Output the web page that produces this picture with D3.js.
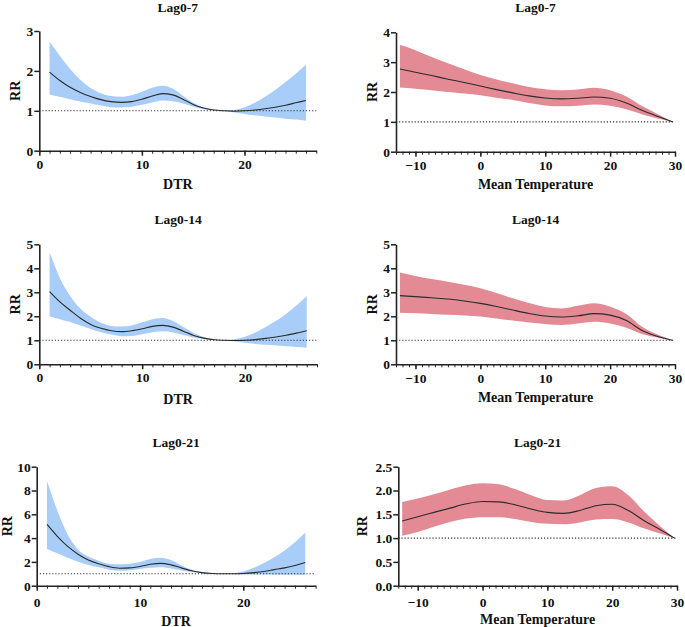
<!DOCTYPE html>
<html>
<head>
<meta charset="utf-8">
<script src="https://cdn.jsdelivr.net/npm/d3@7"></script>
<style>
  html, body { margin: 0; padding: 0; background: #fff; }
  svg { display: block; }
  svg text { font-family: "Liberation Serif", "Times New Roman", Times, serif !important; font-weight: bold; }
</style>
</head>
<body>
<svg id="chart" width="685" height="627"></svg>
<script>
// ---------------- DATA ----------------
const titles = ["Lag0-7", "Lag0-7", "Lag0-14", "Lag0-14", "Lag0-21", "Lag0-21"];
const xLabels = ["DTR", "Mean Temperature"];
const yLabel = "RR";

const dtrX = [1,2,3,4,5,6,7,8,9,10,11,12,13,14,15,16,17,18,19,20,21,22,23,24,25,26];
const tempX = [-12.4,-10,-7.5,-5,-2.5,0,2.5,5,7.5,10,12.5,15,17.5,20,22.5,25,27.5,29.6];

// DTR, Lag0-7
const dtr7RR    = [1.97,1.76,1.59,1.46,1.36,1.28,1.23,1.21,1.23,1.29,1.37,1.43,1.40,1.29,1.16,1.07,1.02,1.00,0.99,1.00,1.02,1.05,1.09,1.14,1.20,1.26];
const dtr7Upper = [2.73,2.38,2.05,1.78,1.57,1.44,1.37,1.35,1.39,1.48,1.58,1.63,1.56,1.38,1.20,1.09,1.03,1.00,1.02,1.09,1.20,1.35,1.52,1.72,1.93,2.16];
const dtr7Lower = [1.41,1.35,1.29,1.23,1.18,1.13,1.09,1.08,1.10,1.15,1.21,1.26,1.24,1.18,1.10,1.04,1.01,1.00,0.96,0.92,0.89,0.86,0.83,0.80,0.78,0.75];

// DTR, Lag0-14
const dtr14RR    = [3.03,2.60,2.25,1.92,1.66,1.50,1.40,1.36,1.40,1.48,1.58,1.62,1.55,1.38,1.20,1.09,1.02,1.00,0.99,1.00,1.03,1.08,1.14,1.21,1.30,1.40];
const dtr14Upper = [4.67,3.60,2.85,2.32,1.98,1.73,1.60,1.57,1.62,1.75,1.88,1.93,1.80,1.55,1.30,1.13,1.04,1.00,1.04,1.15,1.32,1.55,1.80,2.10,2.45,2.85];
const dtr14Lower = [1.99,1.88,1.76,1.62,1.47,1.34,1.24,1.17,1.18,1.25,1.34,1.38,1.33,1.22,1.12,1.05,1.01,1.00,0.95,0.90,0.85,0.81,0.78,0.75,0.72,0.69];

// DTR, Lag0-21
const dtr21RR    = [5.15,4.15,3.30,2.65,2.17,1.85,1.60,1.47,1.50,1.62,1.80,1.88,1.75,1.50,1.25,1.10,1.03,1.00,1.00,1.03,1.10,1.20,1.35,1.50,1.70,1.95];
const dtr21Upper = [8.80,6.30,4.30,3.05,2.45,2.10,1.85,1.80,1.85,2.00,2.25,2.35,2.15,1.70,1.35,1.15,1.05,1.00,1.05,1.20,1.50,1.90,2.40,2.95,3.65,4.48];
const dtr21Lower = [3.08,2.72,2.35,2.02,1.75,1.55,1.35,1.25,1.30,1.40,1.50,1.55,1.45,1.30,1.15,1.05,1.01,1.00,0.98,0.96,0.95,0.94,0.93,0.92,0.92,0.92];

// Mean temperature, Lag0-7
const temp7RR    = [2.77,2.66,2.55,2.43,2.32,2.20,2.08,1.97,1.87,1.80,1.77,1.79,1.83,1.79,1.63,1.38,1.17,1.00];
const temp7Upper = [3.58,3.40,3.17,2.96,2.76,2.57,2.42,2.29,2.17,2.09,2.06,2.08,2.14,2.06,1.85,1.52,1.24,1.00];
const temp7Lower = [2.15,2.11,2.06,2.00,1.95,1.89,1.81,1.73,1.63,1.55,1.52,1.54,1.58,1.54,1.42,1.25,1.10,1.00];

// Mean temperature, Lag0-14
const temp14RR    = [2.86,2.82,2.77,2.72,2.64,2.54,2.41,2.26,2.12,2.01,1.97,2.02,2.11,2.05,1.82,1.40,1.15,1.00];
const temp14Upper = [3.83,3.68,3.55,3.44,3.31,3.17,2.97,2.75,2.55,2.39,2.33,2.44,2.54,2.40,2.10,1.55,1.22,1.00];
const temp14Lower = [2.15,2.13,2.10,2.06,2.03,1.99,1.91,1.82,1.74,1.68,1.64,1.70,1.77,1.70,1.52,1.25,1.10,1.00];

// Mean temperature, Lag0-21
const temp21RR    = [1.36,1.45,1.54,1.63,1.72,1.77,1.76,1.70,1.61,1.54,1.52,1.58,1.68,1.71,1.58,1.36,1.17,1.00];
const temp21Upper = [1.76,1.83,1.92,2.02,2.11,2.15,2.13,2.03,1.90,1.80,1.79,1.90,2.05,2.09,1.90,1.55,1.24,1.00];
const temp21Lower = [1.05,1.13,1.24,1.34,1.41,1.44,1.44,1.40,1.34,1.30,1.29,1.33,1.39,1.40,1.33,1.20,1.09,1.00];

// tick values
const dtrTicks = [0, 10, 20];
const tempTicks = [-10, 0, 10, 20, 30];
const yTicks7 = [0, 1, 2, 3];
const yTicks7T = [0, 1, 2, 3, 4];
const yTicks14 = [0, 1, 2, 3, 4, 5];
const yTicks21 = [0, 2, 4, 6, 8, 10];
const yTicks21T = [0, 0.5, 1.0, 1.5, 2.0, 2.5];

// ---------------- LAYOUT ----------------
const BLUE = "#a8cdf8";
const RED = "#e48a94";
const FONT = '"Liberation Serif", "Times New Roman", Times, serif';

const panels = [
  { title: titles[0], xl: xLabels[0], x: dtrX, rr: dtr7RR, up: dtr7Upper, lo: dtr7Lower,
    xd: [0, 27], yd: [0, 3], xt: dtrTicks, minor: d3.range(0, 28), yt: yTicks7, yf: d3.format("d"),
    L: 39.3, R: 316.3, T: 31, B: 150.7, tickPad: 3.6, xlY: 188.5, ylX: 15, titleY: 11.5, fill: BLUE, refStart: 0 },
  { title: titles[1], xl: xLabels[1], x: tempX, rr: temp7RR, up: temp7Upper, lo: temp7Lower,
    xd: [-13, 30], yd: [0, 4], xt: tempTicks, minor: d3.range(-13, 31), yt: yTicks7T, yf: d3.format("d"),
    L: 396, R: 675, T: 32.3, B: 151.7, tickPad: 3.4, xlY: 188.5, ylX: 372.3, titleY: 11.5, fill: RED, refStart: -13 },
  { title: titles[2], xl: xLabels[0], x: dtrX, rr: dtr14RR, up: dtr14Upper, lo: dtr14Lower,
    xd: [0, 27], yd: [0, 5], xt: dtrTicks, minor: d3.range(0, 28), yt: yTicks14, yf: d3.format("d"),
    L: 39.3, R: 317, T: 244.3, B: 364.3, tickPad: 3.2, xlY: 403.8, ylX: 15, titleY: 224, fill: BLUE, refStart: 0 },
  { title: titles[3], xl: xLabels[1], x: tempX, rr: temp14RR, up: temp14Upper, lo: temp14Lower,
    xd: [-13, 30], yd: [0, 5], xt: tempTicks, minor: d3.range(-13, 31), yt: yTicks14, yf: d3.format("d"),
    L: 396, R: 675, T: 244.3, B: 364.3, tickPad: 4, xlY: 401.5, ylX: 372.3, titleY: 224, fill: RED, refStart: -13 },
  { title: titles[4], xl: xLabels[0], x: dtrX, rr: dtr21RR, up: dtr21Upper, lo: dtr21Lower,
    xd: [0, 27], yd: [0, 10], xt: dtrTicks, minor: d3.range(0, 28), yt: yTicks21, yf: d3.format("d"),
    L: 36.7, R: 315.6, T: 466.7, B: 585.7, tickPad: 6.8, xlY: 625.5, ylX: 6.7, titleY: 446.5, fill: BLUE, refStart: 0.3 },
  { title: titles[5], xl: xLabels[1], x: tempX, rr: temp21RR, up: temp21Upper, lo: temp21Lower,
    xd: [-13, 30], yd: [0, 2.5], xt: tempTicks, minor: d3.range(-13, 31), yt: yTicks21T, yf: d3.format(".1f"),
    L: 398.3, R: 677, T: 466.7, B: 585.7, tickPad: 6.8, xlY: 624, ylX: 361.7, titleY: 446.5, fill: RED, refStart: -13 }
];

const svg = d3.select("#chart").attr("font-family", FONT).attr("font-weight", "bold");
svg.append("rect").attr("width", 685).attr("height", 627).attr("fill", "#fff");

function styleText(sel, size) {
  sel.attr("font-family", FONT).attr("font-weight", "bold").attr("font-size", size).attr("fill", "#111")
     .style("font-family", FONT).style("font-weight", "bold").style("font-size", size + "px");
}

panels.forEach(p => {
  const g = svg.append("g");
  const x = d3.scaleLinear().domain(p.xd).range([p.L, p.R]);
  const y = d3.scaleLinear().domain(p.yd).range([p.B, p.T]);
  const pts = p.x.map((v, i) => ({ x: v, rr: p.rr[i], up: p.up[i], lo: p.lo[i] }));

  // confidence band
  g.append("path").datum(pts)
    .attr("fill", p.fill)
    .attr("d", d3.area().x(d => x(d.x)).y0(d => y(d.lo)).y1(d => y(d.up)).curve(d3.curveMonotoneX));

  // reference line RR = 1
  g.append("line")
    .attr("x1", x(p.refStart)).attr("x2", x(p.xd[1]))
    .attr("y1", y(1)).attr("y2", y(1))
    .attr("stroke", "#333").attr("stroke-width", 1.1)
    .attr("stroke-dasharray", "1.2,1.9");

  // RR curve
  g.append("path").datum(pts)
    .attr("fill", "none").attr("stroke", "#2b2b2b").attr("stroke-width", 1.1)
    .attr("d", d3.line().x(d => x(d.x)).y(d => y(d.rr)).curve(d3.curveMonotoneX));

  // x axis minor ticks
  const minorAxis = g.append("g").attr("transform", `translate(0,${p.B})`)
    .call(d3.axisBottom(x).tickValues(p.minor).tickSize(3).tickFormat("").tickSizeOuter(0));
  minorAxis.select(".domain").remove();
  minorAxis.selectAll("line").attr("stroke", "#222").attr("stroke-width", 1);

  // x axis major
  const xa = g.append("g").attr("transform", `translate(0,${p.B})`)
    .call(d3.axisBottom(x).tickValues(p.xt).tickSize(5).tickPadding(p.tickPad).tickSizeOuter(0));
  xa.attr("font-family", FONT);
  xa.select(".domain").attr("stroke", "#222").attr("stroke-width", 1.6);
  xa.selectAll(".tick line").attr("stroke", "#222").attr("stroke-width", 1.5);
  styleText(xa.selectAll("text"), 13.5);

  // y axis
  const ya = g.append("g").attr("transform", `translate(${p.L},0)`)
    .call(d3.axisLeft(y).tickValues(p.yt).tickFormat(p.yf).tickSize(5).tickPadding(1).tickSizeOuter(0));
  ya.attr("font-family", FONT);
  ya.select(".domain").attr("stroke", "#222").attr("stroke-width", 1.6);
  ya.selectAll(".tick line").attr("stroke", "#222").attr("stroke-width", 1.5);
  styleText(ya.selectAll("text"), 13.5);

  // title
  styleText(g.append("text").attr("x", (p.L + p.R) / 2).attr("y", p.titleY)
    .attr("text-anchor", "middle").text(p.title), 13.5);

  // x label
  styleText(g.append("text").attr("x", (p.L + p.R) / 2).attr("y", p.xlY)
    .attr("text-anchor", "middle").text(p.xl), 14);

  // y label
  styleText(g.append("text")
    .attr("transform", `translate(${p.ylX},${(p.T + p.B) / 2}) rotate(-90)`)
    .attr("text-anchor", "middle").attr("dy", "0.35em").text(yLabel), 14);
});
</script>
</body>
</html>
